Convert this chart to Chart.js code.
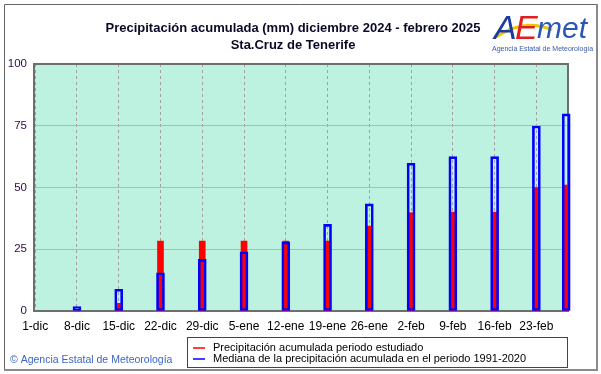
<!DOCTYPE html>
<html>
<head>
<meta charset="utf-8">
<script src="https://cdn.jsdelivr.net/npm/chart.js@4"></script>
<style>
  html, body { margin: 0; padding: 0; background: #fff; }
  #wrap { width: 601px; height: 374px; position: relative; }
</style>
</head>
<body>
<div id="wrap"><canvas id="precipChart" width="601" height="374"></canvas></div>
<script>
// dias desde el 1 de diciembre
const tickDays = [0, 7, 14, 21, 28, 35, 42, 49, 56, 63, 70, 77, 84];
const tickLabels = ["1-dic", "8-dic", "15-dic", "22-dic", "29-dic", "5-ene", "12-ene",
                    "19-ene", "26-ene", "2-feb", "9-feb", "16-feb", "23-feb"];
const barDays = [7, 14, 21, 28, 35, 42, 49, 56, 63, 70, 77, 84, 89];
const periodo = [0, 3.1, 28.3, 28.3, 28.3, 28.3, 28.3, 34.4, 39.8, 40, 40, 50, 51];
const mediana = [1.8, 8.8, 15.5, 20.9, 24, 28, 35.1, 43.4, 59.8, 62.5, 62.5, 74.9, 79.8];
const yTicks = [0, 25, 50, 75, 100];

const FONT = "'Liberation Sans', Arial, sans-serif";

// fondo, marco y textos extra
const decorPlugin = {
  id: "decor",
  beforeDraw(chart) {
    const ctx = chart.ctx;
    const a = chart.chartArea;
    ctx.save();
    ctx.fillStyle = "#ffffff";
    ctx.fillRect(0, 0, chart.width, chart.height);
    ctx.fillStyle = "#bdf2e0";
    ctx.fillRect(a.left, a.top, a.right - a.left, a.bottom - a.top);
    ctx.restore();
  },
  beforeDatasetsDraw(chart) {
    const ctx = chart.ctx;
    const a = chart.chartArea;
    ctx.save();
    ctx.strokeStyle = "#6e6e6e";
    ctx.lineWidth = 2;
    ctx.strokeRect(a.left, a.top, a.right - a.left, a.bottom - a.top);
    ctx.restore();
  },
  afterDraw(chart) {
    const ctx = chart.ctx;
    ctx.save();
    // marco exterior
    ctx.strokeStyle = "#666";
    ctx.lineWidth = 1;
    ctx.beginPath();
    ctx.moveTo(4.5, 370); ctx.lineTo(4.5, 4.5); ctx.lineTo(597, 4.5);
    ctx.stroke();
    ctx.strokeStyle = "#8a8a8a";
    ctx.lineWidth = 2;
    ctx.beginPath();
    ctx.moveTo(597, 4); ctx.lineTo(597, 370); ctx.lineTo(4, 370);
    ctx.stroke();

    // titulo
    ctx.fillStyle = "#0a0a28";
    ctx.font = "bold 13px " + FONT;
    ctx.textAlign = "center";
    ctx.textBaseline = "middle";
    ctx.fillText("Precipitación acumulada (mm) diciembre 2024 - febrero 2025", 293, 28);
    ctx.fillText("Sta.Cruz de Tenerife", 293, 45);

    // logo
    ctx.strokeStyle = "#f2c500";
    ctx.lineWidth = 3;
    ctx.beginPath();
    ctx.moveTo(496, 37);
    ctx.quadraticCurveTo(525, 18, 552, 30);
    ctx.stroke();
    ctx.textAlign = "left";
    ctx.textBaseline = "alphabetic";
    ctx.font = "italic 34px " + FONT;
    ctx.fillStyle = "#1c3c9c";
    ctx.fillText("A", 494, 39);
    ctx.fillStyle = "#e02020";
    ctx.fillText("E", 515, 39);
    ctx.fillStyle = "#2a56b8";
    ctx.font = "italic 30px " + FONT;
    ctx.fillText("met", 537, 38);
    ctx.font = "7px " + FONT;
    ctx.fillStyle = "#3a5aa8";
    ctx.fillText("Agencia Estatal de Meteorología", 492, 51);

    // copyright
    ctx.font = "10.5px " + FONT;
    ctx.fillStyle = "#3a66c8";
    ctx.textBaseline = "middle";
    ctx.fillText("© Agencia Estatal de Meteorología", 10, 360);

    // leyenda
    ctx.strokeStyle = "#444";
    ctx.lineWidth = 1;
    ctx.strokeRect(187.5, 337.5, 380, 30);
    ctx.lineWidth = 1.5;
    ctx.strokeStyle = "#ff0000";
    ctx.beginPath(); ctx.moveTo(193, 348); ctx.lineTo(205, 348); ctx.stroke();
    ctx.strokeStyle = "#0000ff";
    ctx.beginPath(); ctx.moveTo(193, 359); ctx.lineTo(205, 359); ctx.stroke();
    ctx.font = "11px " + FONT;
    ctx.fillStyle = "#000";
    ctx.fillText(chart.data.datasets[0].label, 213, 348);
    ctx.fillText(chart.data.datasets[1].label, 213, 359);
    ctx.restore();
  }
};

const ctx = document.getElementById("precipChart").getContext("2d");
new Chart(ctx, {
  type: "bar",
  data: {
    datasets: [
      {
        label: "Precipitación acumulada periodo estudiado",
        data: barDays.map((d, i) => ({ x: d, y: periodo[i] })),
        backgroundColor: "#ff0000",
        borderWidth: 0,
        barThickness: 6,
        order: 2,
      },
      {
        label: "Mediana de la precipitación acumulada en el periodo 1991-2020",
        data: barDays.map((d, i) => ({ x: d, y: mediana[i] })),
        backgroundColor: "rgba(0,0,0,0)",
        borderColor: "#0000ff",
        borderWidth: 2,
        borderSkipped: false,
        barThickness: 8,
        order: 1,
      },
    ],
  },
  options: {
    responsive: false,
    animation: false,
    clip: false,
    grouped: false,
    layout: { padding: { top: 64, right: 33, left: 0, bottom: 0 } },
    plugins: {
      legend: { display: false },
      title: { display: false },
      tooltip: { enabled: false },
    },
    scales: {
      x: {
        type: "linear",
        offset: false,
        min: -0.2,
        max: 89.3,
        afterBuildTicks: (scale) => {
          scale.ticks = tickDays.map((v) => ({ value: v }));
        },
        afterFit: (scale) => { scale.height = 63; },
        grid: { offset: false, color: "#a0a0a0", lineWidth: 1, drawTicks: false },
        border: { display: false, dash: [3, 3] },
        ticks: {
          autoSkip: false,
          maxRotation: 0,
          padding: 8,
          color: "#000",
          font: { family: FONT, size: 12 },
          callback: (value, index) => tickLabels[index],
        },
      },
      y: {
        min: 0,
        max: 100,
        afterBuildTicks: (scale) => {
          scale.ticks = yTicks.map((v) => ({ value: v }));
        },
        afterFit: (scale) => { scale.width = 34; },
        grid: { color: "#b6b6b6", lineWidth: 1, drawTicks: false },
        border: { display: false },
        ticks: {
          padding: 7,
          color: "#2a0a4a",
          font: { family: FONT, size: 11.5 },
        },
      },
    },
  },
  plugins: [decorPlugin],
});
</script>
</body>
</html>
